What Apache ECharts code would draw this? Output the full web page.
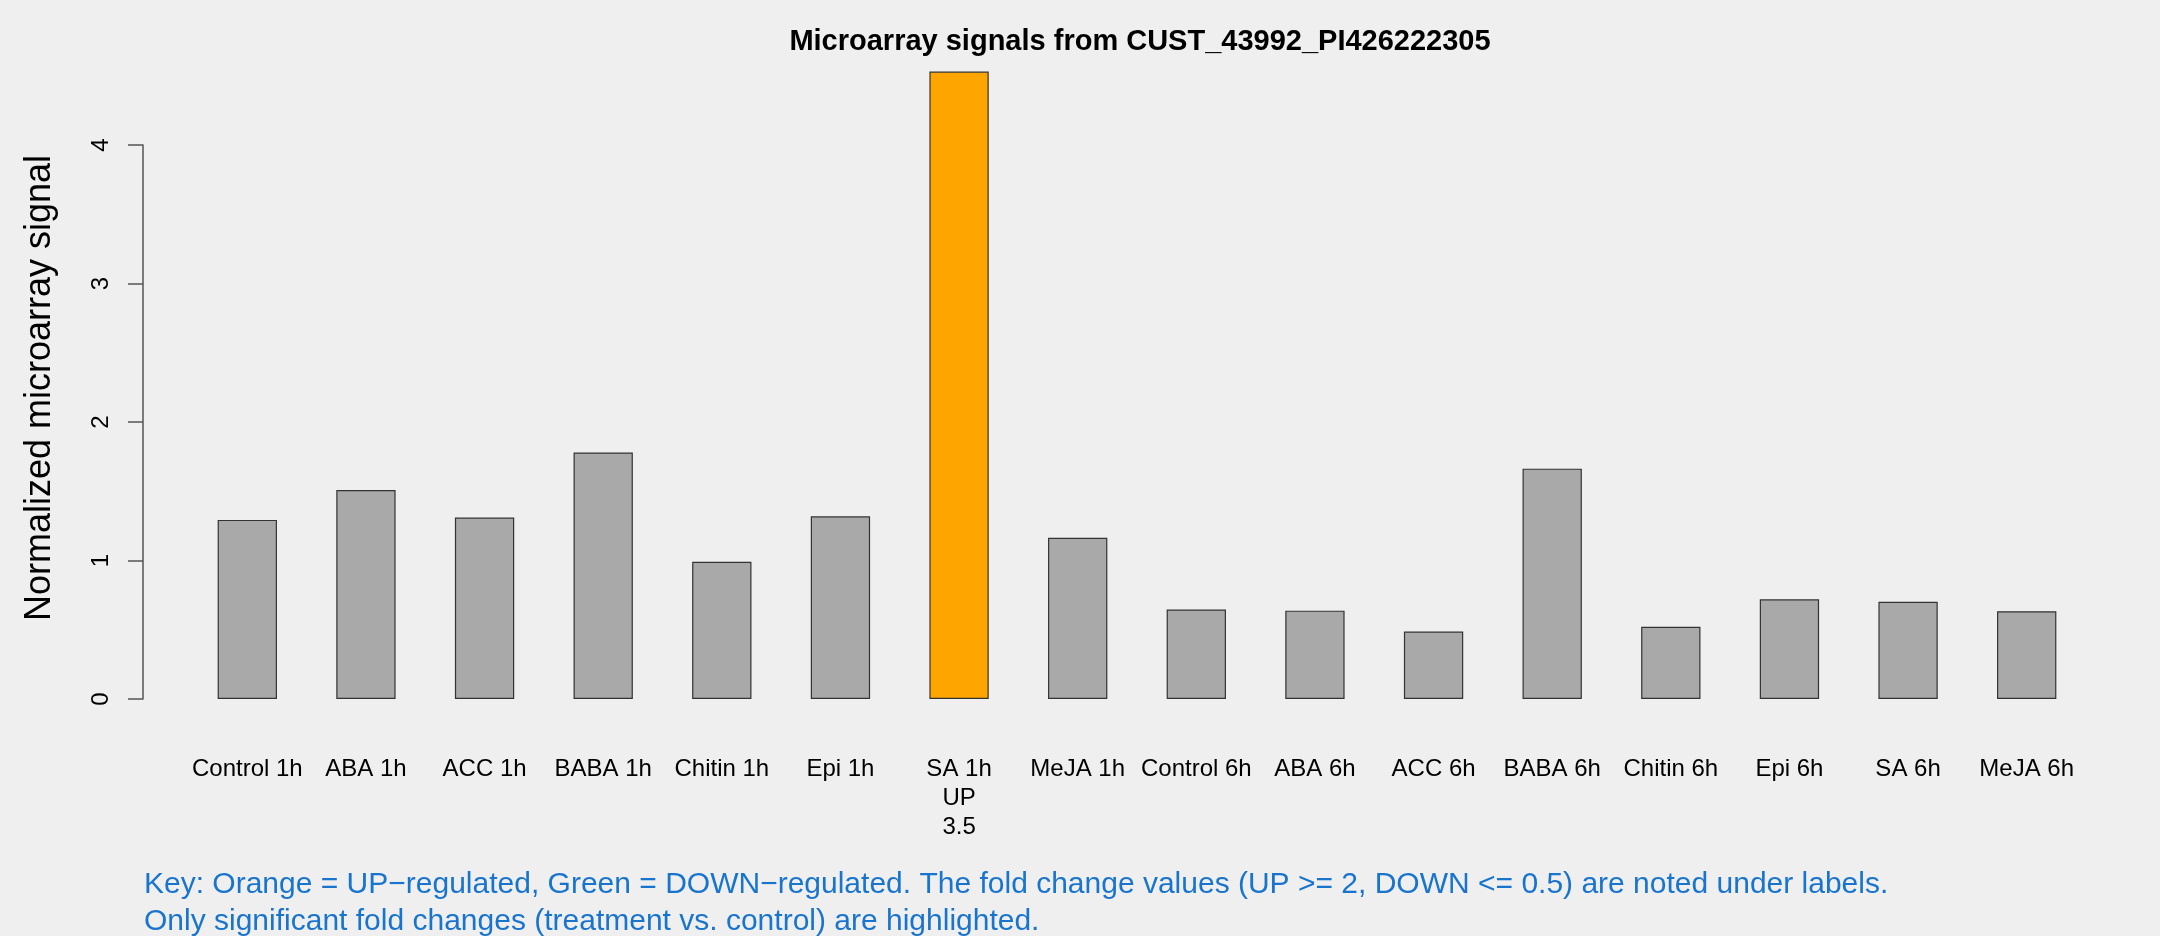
<!DOCTYPE html>
<html>
<head>
<meta charset="utf-8">
<script src="https://cdn.jsdelivr.net/npm/echarts@6/dist/echarts.min.js"></script>
<style>
html,body{margin:0;padding:0;background:#EFEFEF;}
#chart{width:2160px;height:936px;}
</style>
</head>
<body>
<div id="chart"></div>
<script>
const categories = ["Control 1h","ABA 1h","ACC 1h","BABA 1h","Chitin 1h","Epi 1h","SA 1h","MeJA 1h",
  "Control 6h","ABA 6h","ACC 6h","BABA 6h","Chitin 6h","Epi 6h","SA 6h","MeJA 6h"];
const signals = [1.293,1.509,1.310,1.780,0.991,1.319,4.530,1.164,
  0.646,0.638,0.487,1.663,0.521,0.720,0.702,0.634];
const regulation = [null,null,null,null,null,null,"UP",null,null,null,null,null,null,null,null,null];
const foldChange = [null,null,null,null,null,null,3.5,null,null,null,null,null,null,null,null,null];
const yTicks = [0,1,2,3,4];

const FONT = "Liberation Sans, Arial, Helvetica, sans-serif";
const colorFor = r => r === "UP" ? "#FFA500" : (r === "DOWN" ? "#00B050" : "#A9A9A9");
const labels = categories.map((c,i) => regulation[i] ? c + "\n" + regulation[i] + "\n" + foldChange[i] : c);

const chart = echarts.init(document.getElementById('chart'), null, {renderer:'canvas'});
chart.setOption({
  backgroundColor: '#EFEFEF',
  animation: false,
  title: [{
    text: 'Microarray signals from CUST_43992_PI426222305',
    left: 1135, textAlign: 'center', top: 22,
    textStyle: {fontFamily: FONT, fontWeight: 'bold', fontSize: 29, color: '#000'}
  },{
    text: 'Key: Orange = UP\u2212regulated, Green = DOWN\u2212regulated. The fold change values (UP >= 2, DOWN <= 0.5) are noted under labels.\nOnly significant fold changes (treatment vs. control) are highlighted.',
    left: 139, top: 861,
    textStyle: {fontFamily: FONT, fontWeight: 'normal', fontSize: 30, lineHeight: 37, color: '#1874CD'}
  }],
  grid: {left: 188, right: 74, top: 145, bottom: 237, containLabel: false},
  xAxis: {
    type: 'category', data: labels, boundaryGap: true,
    axisLine: {show: false}, axisTick: {show: false},
    axisLabel: {interval: 0, margin: 56, fontFamily: FONT, fontSize: 24, lineHeight: 29, color: '#000'}
  },
  yAxis: {
    type: 'value', min: yTicks[0], max: yTicks[yTicks.length-1], interval: 1,
    offset: 45,
    name: 'Normalized microarray signal', nameLocation: 'middle', nameRotate: 90, nameGap: 85,
    nameTextStyle: {fontFamily: FONT, fontSize: 36, color: '#000', padding: [0,0,0,68]},
    axisLine: {show: true, lineStyle: {color: '#555', width: 1.5}},
    axisTick: {show: true, inside: false, length: 15, lineStyle: {color: '#555', width: 1.5}},
    axisLabel: {rotate: 90, margin: 30, fontFamily: FONT, fontSize: 24, color: '#000'},
    splitLine: {show: false}
  },
  series: [{
    type: 'bar', barWidth: '50%', clip: false,
    data: signals.map((v,i) => ({value: v, itemStyle: {color: colorFor(regulation[i])}})),
    itemStyle: {borderColor: '#333', borderWidth: 1.2}
  }]
});
</script>
</body>
</html>
